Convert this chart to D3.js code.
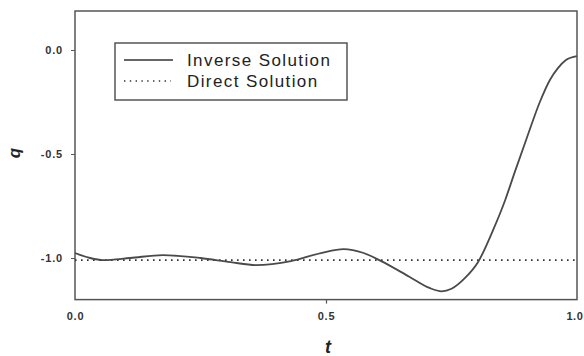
<!DOCTYPE html>
<html><head><meta charset="utf-8">
<script src="https://cdn.jsdelivr.net/npm/d3@7"></script>
<style>body{margin:0;background:#fff}svg{display:block}</style>
</head><body>
<script>
const tValues = [0, 0.03, 0.056, 0.11, 0.175, 0.25, 0.31, 0.36, 0.43, 0.49, 0.535, 0.575, 0.61, 0.666, 0.706, 0.73, 0.75, 0.777, 0.803, 0.833, 0.857, 0.876, 0.9, 0.926, 0.946, 0.962, 0.978, 1.0];
const inverseQ = [-0.976, -1.0, -1.01, -1.0, -0.986, -1.0, -1.02, -1.034, -1.015, -0.976, -0.957, -0.976, -1.015, -1.09, -1.144, -1.16, -1.148, -1.096, -1.019, -0.865, -0.721, -0.587, -0.423, -0.25, -0.144, -0.087, -0.048, -0.029];
const directT = [0, 1];
const directQ = [-1.01, -1.01];
const xTicks = [0, 0.5, 1.0];
const yTicks = [0, -0.5, -1.0];
const seriesNames = ["Inverse Solution", "Direct Solution"];

const W = 584, H = 356;
const FONT = "Arial, 'Liberation Sans', sans-serif";
const svg = d3.select("body").append("svg").attr("width", W).attr("height", H);
const x = d3.scaleLinear().domain([0, 1]).range([75, 577]);
const y = d3.scaleLinear().domain([-1.2, 0.2]).range([299.6, 8.4]);

const axisColor = "#555";
svg.append("rect").attr("x", x(0)).attr("y", 11).attr("width", x(1) - x(0)).attr("height", y(-1.2) - 11)
  .attr("fill", "none").attr("stroke", axisColor).attr("stroke-width", 1.5);

const yAxis = d3.axisLeft(y).tickValues(yTicks).tickSize(4).tickPadding(8).tickFormat(d => d3.format(".1f")(d).replace("−", "-"));
const gy = svg.append("g").attr("transform", `translate(${x(0)},0)`).call(yAxis);
gy.select(".domain").remove();
gy.selectAll("line").attr("stroke", axisColor);
gy.selectAll("text").attr("font-family", FONT).attr("font-size", 11).attr("font-weight", "bold")
  .attr("letter-spacing", 0.8).attr("fill", "#333");

const xAxis = d3.axisBottom(x).tickValues(xTicks).tickSize(4).tickPadding(9).tickFormat(d3.format(".1f"));
const gx = svg.append("g").attr("transform", `translate(0,${y(-1.2)})`).call(xAxis);
gx.select(".domain").remove();
gx.selectAll("line").attr("stroke", axisColor).attr("stroke-width", d => d === 0.5 ? 1.2 : 0);
gx.selectAll("text").attr("font-family", FONT).attr("font-size", 11).attr("font-weight", "bold")
  .attr("letter-spacing", 0.8).attr("fill", "#333");
// keep the last label inside the window
gx.selectAll(".tick").filter(d => d === 1).select("text")
  .attr("text-anchor", "end").attr("letter-spacing", 0.6).attr("x", W - x(1) - 1);

const inverseData = tValues.map((t, i) => [t, inverseQ[i]]);
const directData = directT.map((t, i) => [t, directQ[i]]);
const line = d3.line().x(d => x(d[0])).y(d => y(d[1])).curve(d3.curveMonotoneX);

svg.append("path").datum(directData).attr("d", line).attr("fill", "none")
  .attr("stroke", "#333").attr("stroke-width", 1.6).attr("stroke-dasharray", "1.6,4.4");
svg.append("path").datum(inverseData).attr("d", line).attr("fill", "none")
  .attr("stroke", "#4a4a4a").attr("stroke-width", 1.8);

svg.append("text").attr("x", 328).attr("y", 353).attr("text-anchor", "middle")
  .attr("font-family", FONT).attr("font-style", "italic").attr("font-weight", "bold")
  .attr("font-size", 18).attr("fill", "#222").text("t");
svg.append("text").attr("transform", "translate(20,153) rotate(-90)").attr("text-anchor", "middle")
  .attr("font-family", FONT).attr("font-style", "italic").attr("font-weight", "bold")
  .attr("font-size", 17).attr("fill", "#222").text("q");

const lg = svg.append("g");
lg.append("rect").attr("x", 115).attr("y", 43).attr("width", 232).attr("height", 57)
  .attr("fill", "#fff").attr("stroke", axisColor).attr("stroke-width", 1.5);
lg.append("line").attr("x1", 124).attr("x2", 173).attr("y1", 60).attr("y2", 60).attr("stroke", "#333").attr("stroke-width", 1.6);
lg.append("line").attr("x1", 124).attr("x2", 171).attr("y1", 81).attr("y2", 81).attr("stroke", "#333").attr("stroke-width", 1.4).attr("stroke-dasharray", "1.4,4.4");
seriesNames.forEach((s, i) => {
  lg.append("text").attr("x", 187).attr("y", 66 + i * 21).attr("font-family", FONT)
    .attr("font-size", 17).attr("letter-spacing", 1.4).attr("fill", "#222").text(s);
});
</script>
</body></html>
